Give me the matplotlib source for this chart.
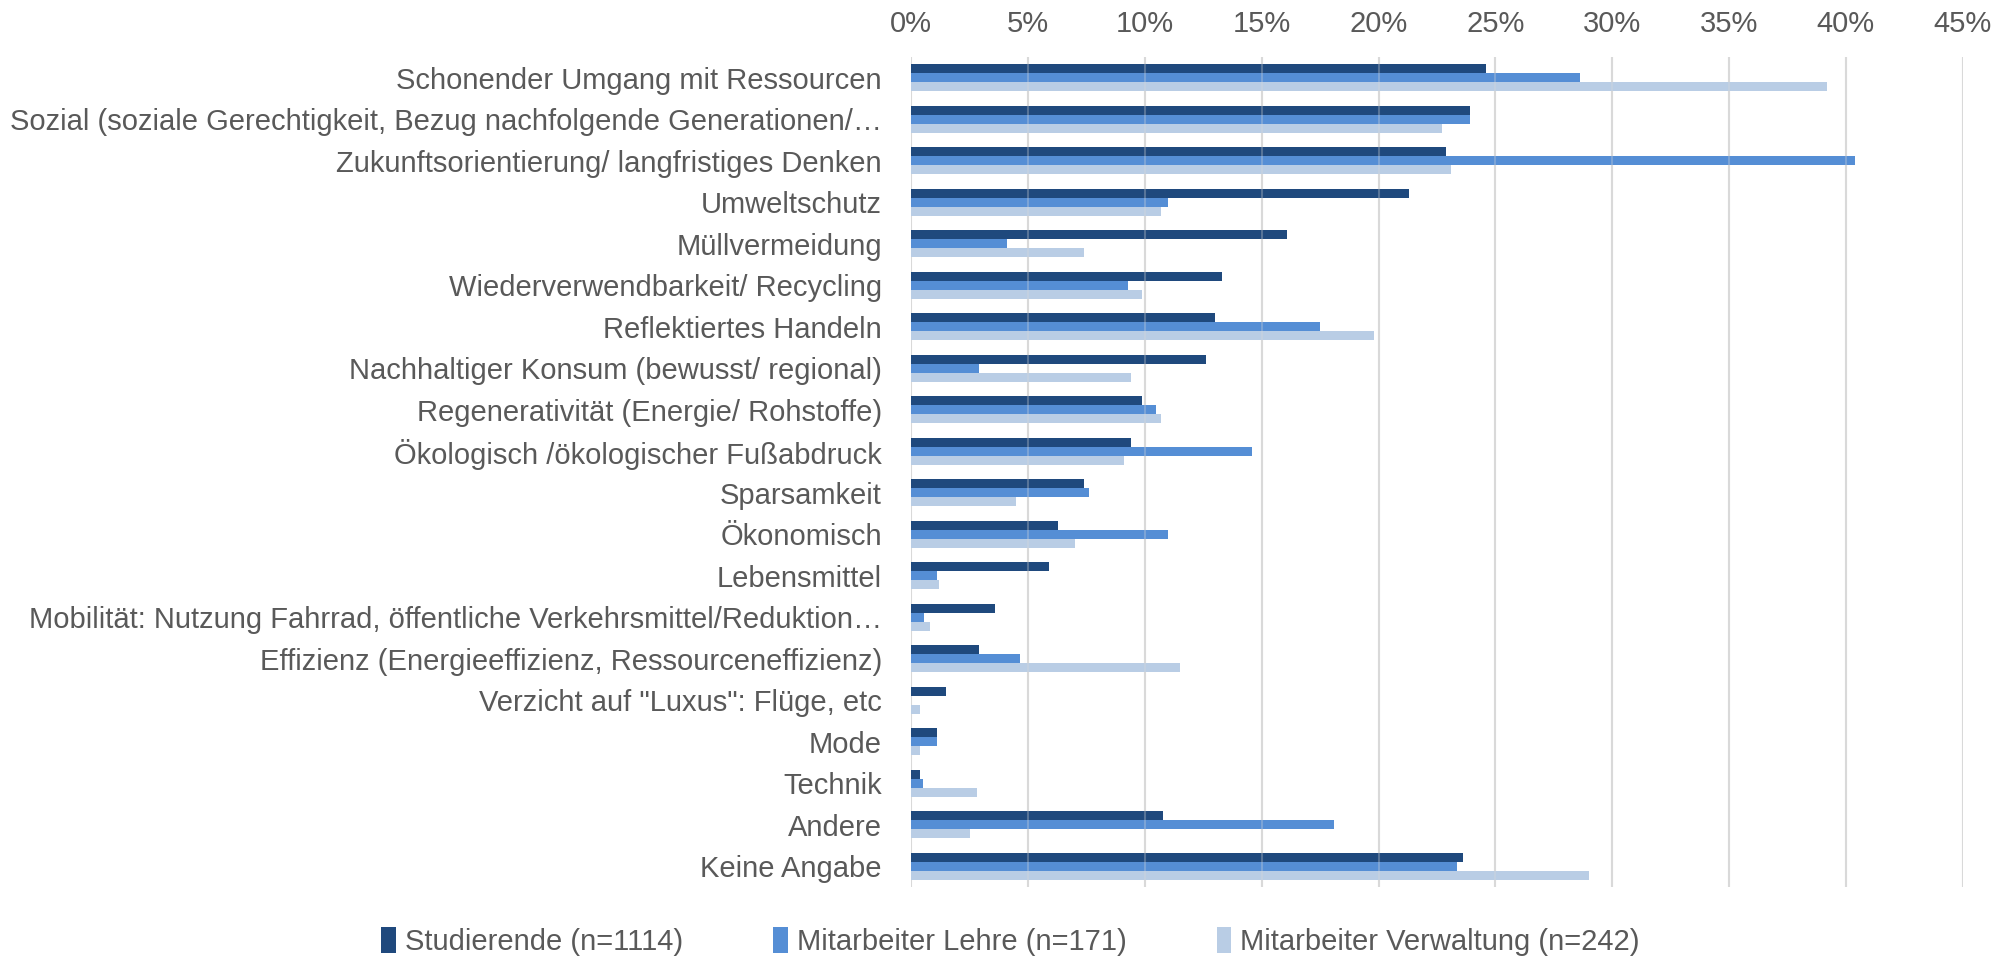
import numpy as np
import matplotlib
matplotlib.use("Agg")
import matplotlib.pyplot as plt
from matplotlib.ticker import PercentFormatter

categories = [
    "Schonender Umgang mit Ressourcen",
    "Sozial (soziale Gerechtigkeit, Bezug nachfolgende Generationen/\u2026",
    "Zukunftsorientierung/ langfristiges Denken",
    "Umweltschutz",
    "Müllvermeidung",
    "Wiederverwendbarkeit/ Recycling",
    "Reflektiertes Handeln",
    "Nachhaltiger Konsum (bewusst/ regional)",
    "Regenerativität (Energie/ Rohstoffe)",
    "Ökologisch /ökologischer Fußabdruck",
    "Sparsamkeit",
    "Ökonomisch",
    "Lebensmittel",
    "Mobilität: Nutzung Fahrrad, öffentliche Verkehrsmittel/Reduktion\u2026",
    "Effizienz (Energieeffizienz, Ressourceneffizienz)",
    "Verzicht auf \"Luxus\": Flüge, etc",
    "Mode",
    "Technik",
    "Andere",
    "Keine Angabe",
]

studierende = [24.6, 23.9, 22.9, 21.3, 16.1, 13.3, 13.0, 12.6, 9.9, 9.4,
               7.4, 6.3, 5.9, 3.6, 2.9, 1.5, 1.1, 0.4, 10.8, 23.6]
lehre = [28.6, 23.9, 40.4, 11.0, 4.1, 9.3, 17.5, 2.9, 10.5, 14.6,
         7.6, 11.0, 1.1, 0.55, 4.65, 0.0, 1.1, 0.5, 18.1, 23.35]
verwaltung = [39.2, 22.7, 23.1, 10.7, 7.4, 9.9, 19.8, 9.4, 10.7, 9.1,
              4.5, 7.0, 1.2, 0.8, 11.5, 0.4, 0.4, 2.8, 2.5, 29.0]

series = [
    ("Studierende (n=1114)", studierende, "#1F497D"),
    ("Mitarbeiter Lehre (n=171)", lehre, "#558ED5"),
    ("Mitarbeiter Verwaltung (n=242)", verwaltung, "#B9CDE5"),
]

plt.rcParams['font.family'] = ['Liberation Sans', 'DejaVu Sans']
txt = "#595959"

fig = plt.figure(figsize=(20.09, 9.6), dpi=100)
ax = fig.add_axes([0.4535, 0.076, 0.5235, 0.8646])

y = np.arange(len(categories))
h = 0.22
for i, (name, vals, col) in enumerate(series):
    ax.barh(y + (i - 1) * h, vals, height=h, color=col, label=name,
            linewidth=0, zorder=2)

ax.set_xlim(0, 45)
ax.set_ylim(len(categories) - 0.5, -0.5)
ax.xaxis.set_major_locator(plt.MultipleLocator(5))
ax.xaxis.set_major_formatter(PercentFormatter(decimals=0))
ax.xaxis.tick_top()
ax.set_yticks(y)
ax.set_yticklabels(categories)
ax.tick_params(axis="x", length=0, labelsize=21, labelcolor=txt, pad=14)
ax.tick_params(axis="y", length=0, labelsize=21, labelcolor=txt, pad=21)
ax.grid(axis="x", color="#D9D9D9", linewidth=1.5, zorder=0)
# gridlines faintly visible through the bars, like in the original
for v in range(5, 50, 5):
    ax.axvline(v, color="#D9D9D9", linewidth=1.5, alpha=0.3, zorder=3)
for s in ax.spines.values():
    s.set_visible(False)

ax.legend(loc="center", bbox_to_anchor=(0.503, 0.019), bbox_transform=fig.transFigure,
          ncol=3, frameon=False, fontsize=21, labelcolor=txt,
          handlelength=0.5, handleheight=1.0, handletextpad=0.3, columnspacing=3.1)

fig.savefig("out.png", dpi=100)
